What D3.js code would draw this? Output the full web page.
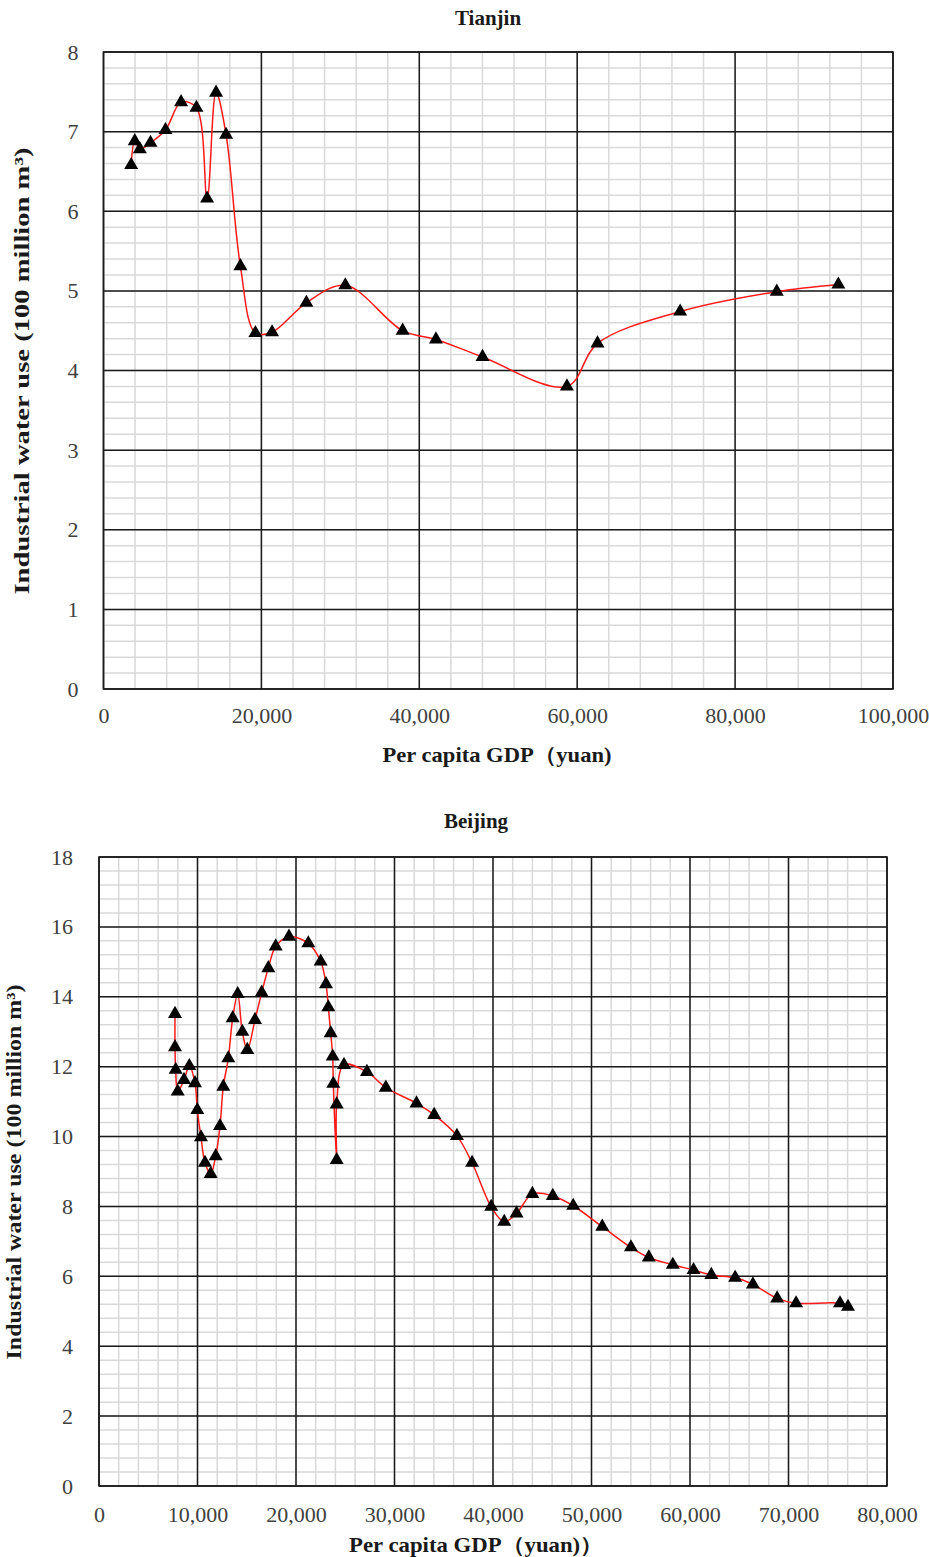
<!DOCTYPE html>
<html>
<head>
<meta charset="utf-8">
<script src="https://cdn.jsdelivr.net/npm/d3@7"></script>
<style>
  body { margin:0; background:#fff; }
  text { font-family: "Liberation Serif", "Times New Roman", serif; }
</style>
</head>
<body>
<div id="chart"></div>
<script>
// Tianjin: per capita GDP (yuan) vs industrial water use (100 million m3)
const tianjinGDP = [3506, 3960, 4600, 5950, 7850, 9830, 11770, 13120, 14260, 15530, 17340, 19240,
  21350, 25700, 30630, 37890, 42110, 48010, 58700, 62570, 73040, 85280, 93080];
const tianjinWater = [6.58, 6.88, 6.78, 6.86, 7.02, 7.37, 7.30, 6.16, 7.49, 6.96, 5.31, 4.47,
  4.48, 4.85, 5.07, 4.50, 4.39, 4.17, 3.80, 4.34, 4.74, 4.99, 5.08];

// Beijing
const beijingGDP = [7716, 7716, 7786, 7990, 8630, 9170, 9746, 9980, 10355, 10761, 11340, 11848,
  12284, 12620, 13127, 13573, 14080, 14548, 15056, 15838, 16518, 17188, 17939, 19289, 21249, 22507,
  23046, 23279, 23523, 23726, 23787, 24132, 24132, 24873, 27200, 29120, 32234, 34029, 36337, 37875,
  39817, 41143, 42393, 44000, 46071, 48143, 51091, 54000, 55818, 58255, 60361, 62166, 64585, 66390,
  68845, 70769, 75228, 76040];
const beijingWater = [13.51, 12.56, 11.91, 11.29, 11.62, 12.02, 11.53, 10.76, 9.98, 9.25, 8.93, 9.44,
  10.30, 11.43, 12.24, 13.39, 14.08, 13.00, 12.48, 13.34, 14.12, 14.82, 15.44, 15.72, 15.53, 15.01,
  14.36, 13.70, 12.96, 12.29, 11.51, 9.33, 10.92, 12.05, 11.85, 11.40, 10.95, 10.62, 10.02, 9.25,
  7.99, 7.56, 7.80, 8.36, 8.30, 8.02, 7.42, 6.83, 6.54, 6.33, 6.18, 6.04, 5.96, 5.77, 5.37, 5.23,
  5.23, 5.13];

// tick values
const tianjinXTicks = [0, 20000, 40000, 60000, 80000, 100000];
const tianjinYTicks = [0, 1, 2, 3, 4, 5, 6, 7, 8];
const beijingXTicks = [0, 10000, 20000, 30000, 40000, 50000, 60000, 70000, 80000];
const beijingYTicks = [0, 2, 4, 6, 8, 10, 12, 14, 16, 18];

const W = 929, H = 1557;
const svg = d3.select('#chart').append('svg').attr('width', W).attr('height', H);

function panel(o){
  const xs = o.gdp, ys = o.water;
  const pts = xs.map((v,i)=>({x:v, y:ys[i]}));
  const x = d3.scaleLinear().domain(o.xDomain).range([o.left, o.right]);
  const y = d3.scaleLinear().domain(o.yDomain).range([o.bottom, o.top]);
  const g = svg.append('g');

  // minor grid
  const xMinor = d3.range(o.xDomain[0], o.xDomain[1] + 1, o.xMinor);
  const yMinor = d3.range(o.yDomain[0], o.yDomain[1] + 1e-9, o.yMinor);
  g.append('g').selectAll('line').data(xMinor).join('line')
    .attr('x1', d=>x(d)).attr('x2', d=>x(d)).attr('y1', o.top).attr('y2', o.bottom)
    .attr('stroke', '#d9d9d9').attr('stroke-width', 1.5);
  g.append('g').selectAll('line').data(yMinor).join('line')
    .attr('y1', d=>y(d)).attr('y2', d=>y(d)).attr('x1', o.left).attr('x2', o.right)
    .attr('stroke', '#d9d9d9').attr('stroke-width', 1.5);

  // major grid
  g.append('g').selectAll('line').data(o.xTicks).join('line')
    .attr('x1', d=>x(d)).attr('x2', d=>x(d)).attr('y1', o.top).attr('y2', o.bottom)
    .attr('stroke', '#1a1a1a').attr('stroke-width', 1.5);
  g.append('g').selectAll('line').data(o.yTicks).join('line')
    .attr('y1', d=>y(d)).attr('y2', d=>y(d)).attr('x1', o.left).attr('x2', o.right)
    .attr('stroke', '#1a1a1a').attr('stroke-width', 1.5);
  g.append('rect').attr('x', o.left).attr('y', o.top)
    .attr('width', o.right - o.left).attr('height', o.bottom - o.top)
    .attr('fill', 'none').attr('stroke', '#1a1a1a').attr('stroke-width', 1.5);

  // axes (labels only)
  const xAxis = g.append('g').attr('transform', `translate(0,${o.bottom})`)
    .call(d3.axisBottom(x).tickValues(o.xTicks).tickSize(0).tickPadding(o.xPad).tickFormat(d3.format(',')));
  const yAxis = g.append('g').attr('transform', `translate(${o.left},0)`)
    .call(d3.axisLeft(y).tickValues(o.yTicks).tickSize(0).tickPadding(o.yPad));
  [xAxis, yAxis].forEach(a=>{
    a.select('.domain').remove();
    a.selectAll('text').attr('font-size', 22).attr('fill', '#404040')
      .attr('font-family', '"Liberation Serif", serif');
  });

  // line
  const line = d3.line().x(d=>x(d.x)).y(d=>y(d.y)).curve(d3.curveCatmullRom.alpha(0.5));
  g.append('path').datum(pts).attr('d', line).attr('fill', 'none')
    .attr('stroke', '#ff1a1a').attr('stroke-width', 1.5);

  // markers
  g.selectAll('.mk').data(pts).join('path').attr('class', 'mk')
    .attr('transform', d=>`translate(${x(d.x)},${y(d.y)})`)
    .attr('d', d3.symbol(d3.symbolTriangle, 85)).attr('fill', '#000');

  // titles
  g.append('text').attr('x', o.titleX).attr('y', o.titleY).attr('text-anchor', 'middle')
    .attr('font-weight', 'bold').attr('font-size', 21).attr('fill', '#1a1a1a').text(o.title);
  g.append('text').attr('x', o.xTitleX).attr('y', o.xTitleY).attr('text-anchor', 'middle')
    .attr('font-weight', 'bold').attr('font-size', 21).attr('fill', '#1a1a1a')
    .attr('textLength', o.xTitleLen).attr('lengthAdjust', 'spacingAndGlyphs').text(o.xTitle);
  g.append('text').attr('transform', `translate(${o.yTitleX},${o.yTitleY}) rotate(-90)`)
    .attr('text-anchor', 'middle').attr('font-weight', 'bold').attr('font-size', 21).attr('fill', '#1a1a1a')
    .attr('textLength', o.yTitleLen).attr('lengthAdjust', 'spacingAndGlyphs').text(o.yTitle);
}

panel({
  gdp: tianjinGDP, water: tianjinWater,
  xDomain: [0, 100000], yDomain: [0, 8], xTicks: tianjinXTicks, yTicks: tianjinYTicks,
  xMinor: 4000, yMinor: 0.2,
  left: 103.5, right: 893, top: 52, bottom: 689, xPad: 18, yPad: 25,
  title: 'Tianjin', titleX: 488, titleY: 25,
  xTitle: 'Per capita GDP（yuan)', xTitleX: 497, xTitleY: 762, xTitleLen: 229,
  yTitle: 'Industrial water use (100 million m³)', yTitleX: 29, yTitleY: 371, yTitleLen: 447
});

panel({
  gdp: beijingGDP, water: beijingWater,
  xDomain: [0, 80000], yDomain: [0, 18], xTicks: beijingXTicks, yTicks: beijingYTicks,
  xMinor: 2000, yMinor: 0.4,
  left: 99, right: 887, top: 857, bottom: 1486, xPad: 20, yPad: 26,
  title: 'Beijing', titleX: 476, titleY: 828,
  xTitle: 'Per capita GDP（yuan)）', xTitleX: 476, xTitleY: 1552, xTitleLen: 254,
  yTitle: 'Industrial water use (100 million m³)', yTitleX: 21, yTitleY: 1172, yTitleLen: 375
});
</script>
</body>
</html>
